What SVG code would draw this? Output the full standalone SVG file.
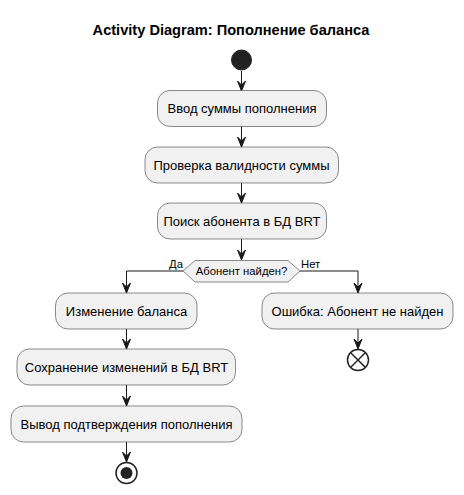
<svg xmlns="http://www.w3.org/2000/svg" width="464" height="495" viewBox="0 0 464 495">
<defs>
<style>
.box{fill:#F1F1F1;stroke:#181818;stroke-width:0.5}
.t{font-family:"Liberation Sans",Arial,sans-serif;font-size:13px;fill:#000;text-anchor:middle}
.lbl{font-family:"Liberation Sans",Arial,sans-serif;font-size:11.3px;fill:#000}
.ln{fill:none;stroke:#181818;stroke-width:1}
.ah{fill:#181818;stroke:#181818;stroke-width:1}
</style>
</defs>
<rect width="464" height="495" fill="#FFFFFF"/>
<text x="231" y="35" font-family="'Liberation Sans',Arial,sans-serif" font-size="14.6" font-weight="bold" text-anchor="middle">Activity Diagram: Пополнение баланса</text>

<g id="connectors">
<line class="ln" x1="241.5" y1="71" x2="241.5" y2="90"/>
<polygon class="ah" points="237.5,81 241.5,91 245.5,81 241.5,85"/>
<line class="ln" x1="241.5" y1="126" x2="241.5" y2="146"/>
<polygon class="ah" points="237.5,137 241.5,147 245.5,137 241.5,141"/>
<line class="ln" x1="241.5" y1="183" x2="241.5" y2="202"/>
<polygon class="ah" points="237.5,193 241.5,203 245.5,193 241.5,197"/>
<line class="ln" x1="241.5" y1="239" x2="241.5" y2="260"/>
<polygon class="ah" points="237.5,250 241.5,260 245.5,250 241.5,254"/>
<polyline class="ln" points="183,271 126.5,271 126.5,292"/>
<polygon class="ah" points="122.5,283 126.5,293 130.5,283 126.5,287"/>
<polyline class="ln" points="300,271 358,271 358,292"/>
<polygon class="ah" points="354,283 358,293 362,283 358,287"/>
<line class="ln" x1="126.5" y1="329" x2="126.5" y2="348"/>
<polygon class="ah" points="122.5,339 126.5,349 130.5,339 126.5,343"/>
<line class="ln" x1="126.5" y1="385" x2="126.5" y2="405"/>
<polygon class="ah" points="122.5,396 126.5,406 130.5,396 126.5,400"/>
<line class="ln" x1="126.5" y1="442" x2="126.5" y2="461"/>
<polygon class="ah" points="122.5,452 126.5,462 130.5,452 126.5,456"/>
<line class="ln" x1="358" y1="329" x2="358" y2="348"/>
<polygon class="ah" points="354,339 358,349 362,339 358,343"/>
<text class="lbl" x="169" y="268">Да</text>
<text class="lbl" x="301" y="268">Нет</text>
</g>

<g id="start"><circle cx="241.5" cy="60" r="10" fill="#222222" stroke="#222222"/></g>
<g id="n1"><rect class="box" x="157.5" y="90.5" width="169" height="36" rx="12.5"/><text class="t" x="242" y="113">Ввод суммы пополнения</text></g>
<g id="n2"><rect class="box" x="145" y="147" width="193.5" height="36" rx="12.5"/><text class="t" x="241.5" y="169.5">Проверка валидности суммы</text></g>
<g id="n3"><rect class="box" x="157.5" y="203" width="169" height="36" rx="12.5"/><text class="t" x="242" y="225.5">Поиск абонента в БД BRT</text></g>
<g id="d1"><polygon class="box" points="183,271 195,260.5 288,260.5 300,271 288,282 195,282"/><text class="lbl" x="241.5" y="275" text-anchor="middle">Абонент найден?</text></g>
<g id="n4"><rect class="box" x="55.5" y="293" width="141.5" height="36" rx="12.5"/><text class="t" x="126.5" y="315.5">Изменение баланса</text></g>
<g id="n5"><rect class="box" x="262" y="293" width="191" height="36" rx="12.5"/><text class="t" x="357.5" y="315.5">Ошибка: Абонент не найден</text></g>
<g id="n6"><rect class="box" x="17" y="349" width="218.5" height="36" rx="12.5"/><text class="t" x="126.5" y="371.5">Сохранение изменений в БД BRT</text></g>
<g id="n7"><rect class="box" x="11" y="406" width="231" height="36" rx="12.5"/><text class="t" x="126.5" y="428.5">Вывод подтверждения пополнения</text></g>
<g id="end"><circle cx="126.5" cy="473" r="10.5" fill="none" stroke="#222222" stroke-width="1.5"/><circle cx="126.5" cy="473" r="6" fill="#222222"/></g>
<g id="stop"><circle cx="358" cy="360" r="10.5" fill="none" stroke="#222222" stroke-width="1.5"/><line x1="350.5" y1="352.5" x2="365.5" y2="367.5" stroke="#222222" stroke-width="1.5"/><line x1="365.5" y1="352.5" x2="350.5" y2="367.5" stroke="#222222" stroke-width="1.5"/></g>
</svg>
